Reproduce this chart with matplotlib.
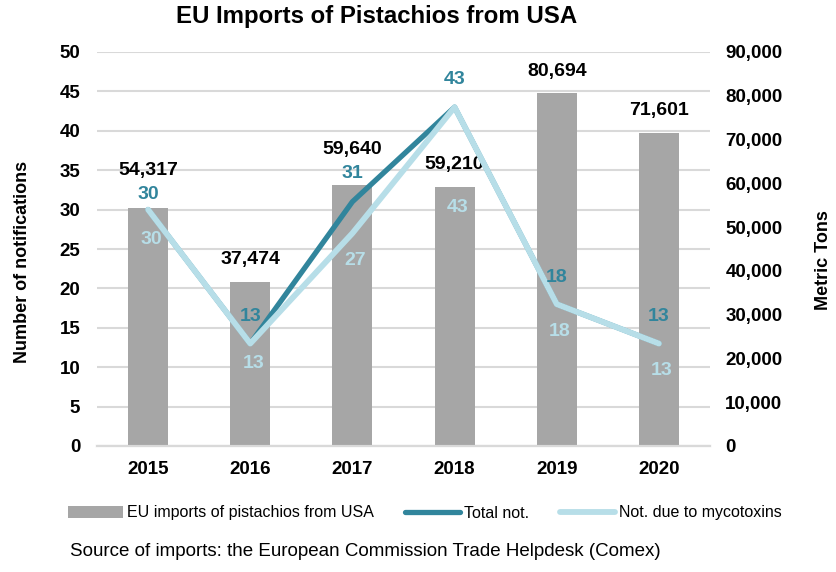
import matplotlib.pyplot as plt
import numpy as np

years = ["2015", "2016", "2017", "2018", "2019", "2020"]
imports_tons = [54317, 37474, 59640, 59210, 80694, 71601]
total_not = [30, 13, 31, 43, 18, 13]
myco_not = [30, 13, 27, 43, 18, 13]

plt.rcParams["font.family"] = ["Liberation Sans", "DejaVu Sans"]

BAR_C = "#A6A6A6"
TOTAL_C = "#31859C"
MYCO_C = "#B7DEE8"
GRID_C = "#D9D9D9"

# label offsets in pixels (as placed in the original)
bar_dy = [38, 22, 35, 22, 21, 22]
tot_dy = [15, 27, 28, 28, 27, 27]
myco_dy = [-30, -20, -27, -100, -27, -27]

fig = plt.figure(figsize=(8.37, 5.72), dpi=100)
ax1 = fig.add_axes([97 / 837, 1 - 446 / 572, 613 / 837, 394 / 572])
ax2 = ax1.twinx()
ax3 = ax1.twinx()

x = np.arange(len(years))

# gridlines and left axis
ax1.set_ylim(0, 50)
ax1.set_yticks(np.arange(0, 51, 5))
ax1.grid(axis="y", color=GRID_C, linewidth=1.5)
ax1.set_axisbelow(True)
ax1.set_xlim(-0.5, len(years) - 0.5)
ax1.set_xticks(x)
ax1.set_xticklabels(years)
ax1.set_ylabel("Number of notifications", fontsize=13, fontweight="bold")
ax1.yaxis.set_label_coords((31 - 97) / 613, (446 - 262) / 394)

# bars (right axis)
bars = ax2.bar(x, imports_tons, width=0.39, color=BAR_C, label="EU imports of pistachios from USA")
ax2.set_ylim(0, 90000)
ax2.set_yticks(np.arange(0, 90001, 10000))
ax2.yaxis.set_major_formatter(plt.FuncFormatter(lambda v, p: f"{int(v):,}"))
ax2.set_ylabel("Metric Tons", fontsize=13, fontweight="bold")
ax2.yaxis.set_label_coords((815 - 97) / 613, (446 - 260) / 394)
for i, v in enumerate(imports_tons):
    ax2.annotate(f"{v:,}", (x[i], v), xytext=(0, bar_dy[i]), textcoords="offset pixels",
                 ha="center", va="center", fontsize=14, fontweight="bold", color="black")

# lines (left scale)
ax3.set_ylim(0, 50)
ln1, = ax3.plot(x, total_not, color=TOTAL_C, linewidth=3.8, label="Total not.", solid_capstyle="round", zorder=3)
ln2, = ax3.plot(x, myco_not, color=MYCO_C, linewidth=4.2, label="Not. due to mycotoxins", solid_capstyle="round", zorder=4)
ax3.set_yticks([])
for i, v in enumerate(total_not):
    ax3.annotate(str(v), (x[i], v), xytext=(0, tot_dy[i]), textcoords="offset pixels",
                 ha="center", va="center", fontsize=14, fontweight="bold", color=TOTAL_C, zorder=5)
for i, v in enumerate(myco_not):
    ax3.annotate(str(v), (x[i], v), xytext=(3, myco_dy[i]), textcoords="offset pixels",
                 ha="center", va="center", fontsize=14, fontweight="bold", color=MYCO_C, zorder=5)

for a in (ax1, ax2, ax3):
    for s in ("top", "left", "right"):
        a.spines[s].set_visible(False)
    a.spines["bottom"].set_color(GRID_C)
    a.spines["bottom"].set_linewidth(1.5)
    a.tick_params(length=0, labelsize=13.5)
    for lab in a.get_xticklabels() + a.get_yticklabels():
        lab.set_fontweight("bold")
ax1.tick_params(axis="y", pad=12)
ax1.tick_params(axis="x", pad=11)
ax2.tick_params(axis="y", pad=11)

fig.text(377 / 837, 1 - 17 / 572, "EU Imports of Pistachios from USA", ha="center", va="center",
         fontsize=17.3, fontweight="bold")

fig.legend(handles=[bars, ln1, ln2], loc="center", bbox_to_anchor=(425 / 837, 1 - 513 / 572),
           ncol=3, frameon=False, fontsize=11.5, handlelength=3.45, handletextpad=0.25,
           columnspacing=1.95)

fig.text(70 / 837, 1 - 551 / 572, "Source of imports: the European Commission Trade Helpdesk (Comex)",
         ha="left", va="center", fontsize=13.5)

fig.savefig("out.png", dpi=100)
